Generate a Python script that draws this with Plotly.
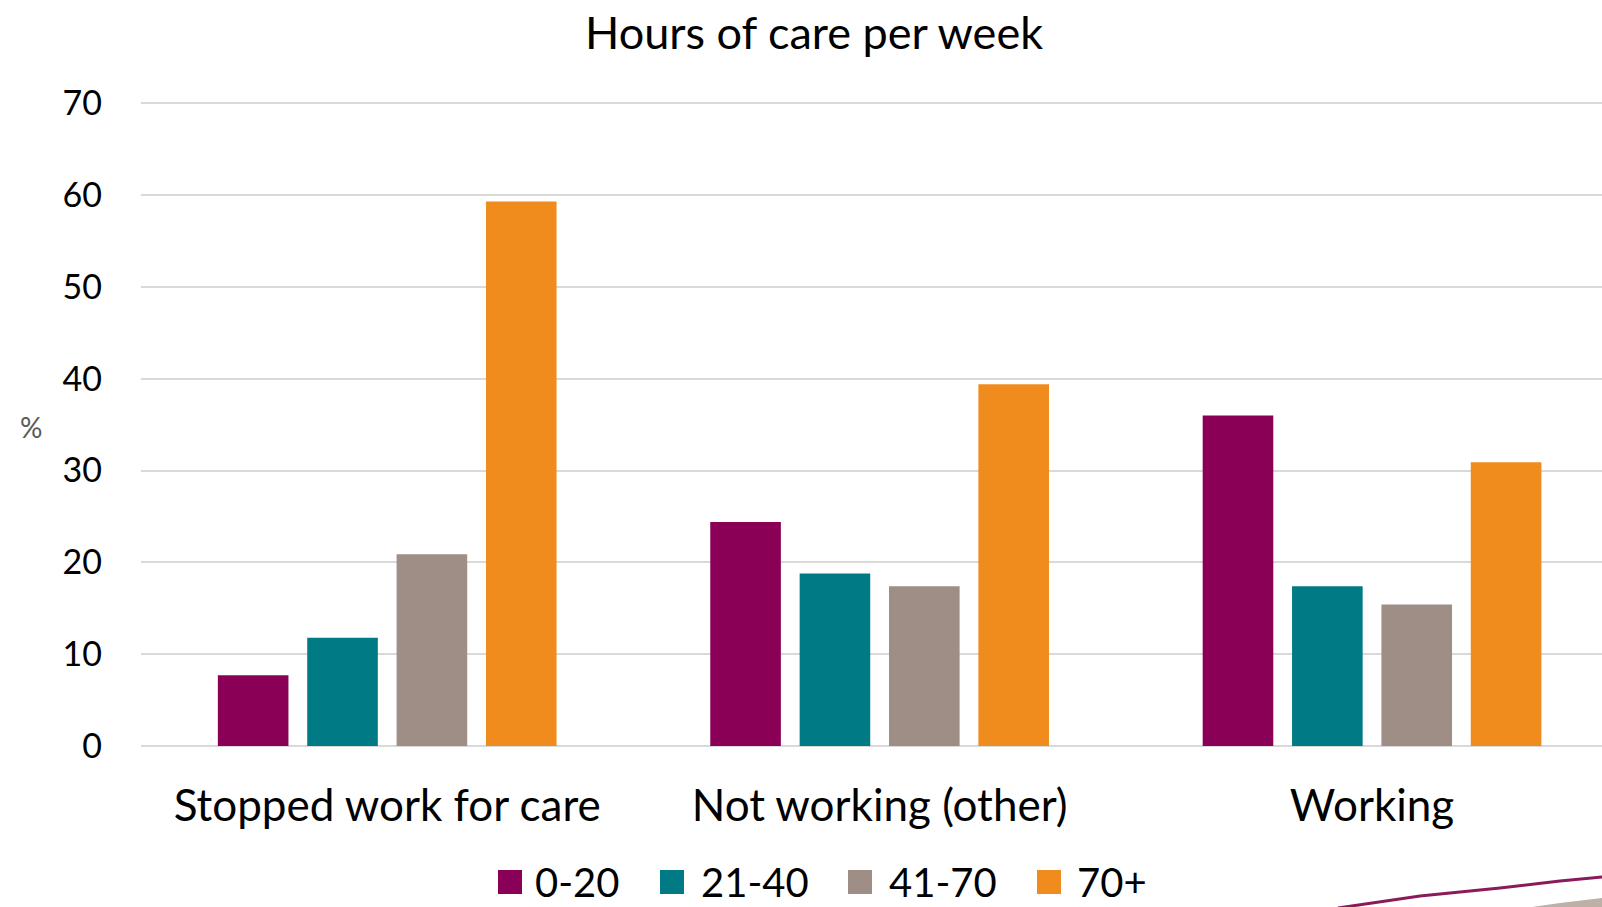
import plotly.graph_objects as go

# Data: share of carers (%) by employment status and weekly hours of care
categories = ["Stopped work for care", "Not working (other)", "Working"]
hour_bands = ["0-20", "21-40", "41-70", "70+"]
values_0_20 = [7.7, 24.4, 36.0]
values_21_40 = [11.8, 18.8, 17.4]
values_41_70 = [20.9, 17.4, 15.4]
values_70_plus = [59.3, 39.4, 30.9]
y_ticks = [0, 10, 20, 30, 40, 50, 60, 70]

series = [values_0_20, values_21_40, values_41_70, values_70_plus]
colors = ["#8B0057", "#007A84", "#9E8E85", "#F08C1E"]

FONT = "Lato"
W, H = 1602, 907
L, R, T, B = 141, 0, 102, 161

fig = go.Figure()
for name, vals, col in zip(hour_bands, series, colors):
    fig.add_trace(go.Bar(
        x=categories, y=vals, name=name,
        marker=dict(color=col, line=dict(width=0)),
        showlegend=False,
    ))

plot_w = W - L - R
plot_h = H - T - B


def px_to_paper(px, py):
    return (px - L) / plot_w, (H - B - py) / plot_h


# legend row: coloured squares with labels, laid out along the bottom
legend_square_x = [498, 660, 848, 1037]
legend_text_x = [533, 699, 887, 1075]
LEG_Y, SQ = 882, 24

shapes = []
annotations = []
for name, col, sx, tx in zip(hour_bands, colors, legend_square_x, legend_text_x):
    x0, y0 = px_to_paper(sx, LEG_Y + SQ / 2)
    x1, y1 = px_to_paper(sx + SQ, LEG_Y - SQ / 2)
    shapes.append(dict(type="rect", xref="paper", yref="paper",
                       x0=x0, y0=y0, x1=x1, y1=y1,
                       fillcolor=col, line=dict(width=0)))
    ax, ay = px_to_paper(tx, LEG_Y)
    annotations.append(dict(text=name, xref="paper", yref="paper", x=ax, y=ay,
                            xanchor="left", yanchor="middle", showarrow=False,
                            font=dict(family=FONT, size=40, color="#000000")))

# decorative swoosh in the lower right corner
pts = [(1338, 908), (1420, 896), (1500, 888), (1560, 881), (1603, 877)]
path = "M " + " L ".join(f"{px_to_paper(x, y)[0]:.5f},{px_to_paper(x, y)[1]:.5f}" for x, y in pts)
wedge_pts = [(1525, 908), (1560, 903), (1603, 898), (1603, 908)]
wedge = "M " + " L ".join(f"{px_to_paper(x, y)[0]:.5f},{px_to_paper(x, y)[1]:.5f}" for x, y in wedge_pts) + " Z"
shapes.append(dict(type="path", path=wedge, xref="paper", yref="paper",
                   fillcolor="#BDB0A6", line=dict(width=0), layer="below"))
shapes.append(dict(type="path", path=path, xref="paper", yref="paper",
                   line=dict(color="#8B1A5A", width=3)))

px, py = px_to_paper(31, 427)
annotations.append(dict(
    text="%", xref="paper", yref="paper", x=px, y=py,
    xanchor="center", yanchor="middle", showarrow=False,
    font=dict(family=FONT, size=28, color="#595959"),
))

fig.update_layout(
    width=W, height=H,
    margin=dict(l=L, r=R, t=T, b=B, pad=0, autoexpand=False),
    paper_bgcolor="white", plot_bgcolor="white",
    font=dict(family=FONT, color="#000000"),
    barmode="group", bargap=0.274, bargroupgap=0.21,
    showlegend=False,
    title=dict(text="Hours of care per week", x=814 / W, xanchor="center",
               y=1 - 33 / H, yanchor="middle",
               font=dict(family=FONT, size=45, color="#000000")),
    xaxis=dict(
        range=[-0.5, 2.467], showgrid=False, zeroline=False, showline=False,
        ticks="", tickfont=dict(family=FONT, size=44, color="#000000"),
        ticklabelstandoff=30, automargin=False,
    ),
    yaxis=dict(
        range=[0, 70.15], tickvals=y_ticks, showgrid=True, gridcolor="#D9D9D9",
        gridwidth=2, zeroline=True, zerolinecolor="#D9D9D9", zerolinewidth=2,
        showline=False, ticks="",
        tickfont=dict(family=FONT, size=34, color="#000000"),
        ticklabelstandoff=38, automargin=False,
    ),
    annotations=annotations,
    shapes=shapes,
)

fig.write_html("out.html")
